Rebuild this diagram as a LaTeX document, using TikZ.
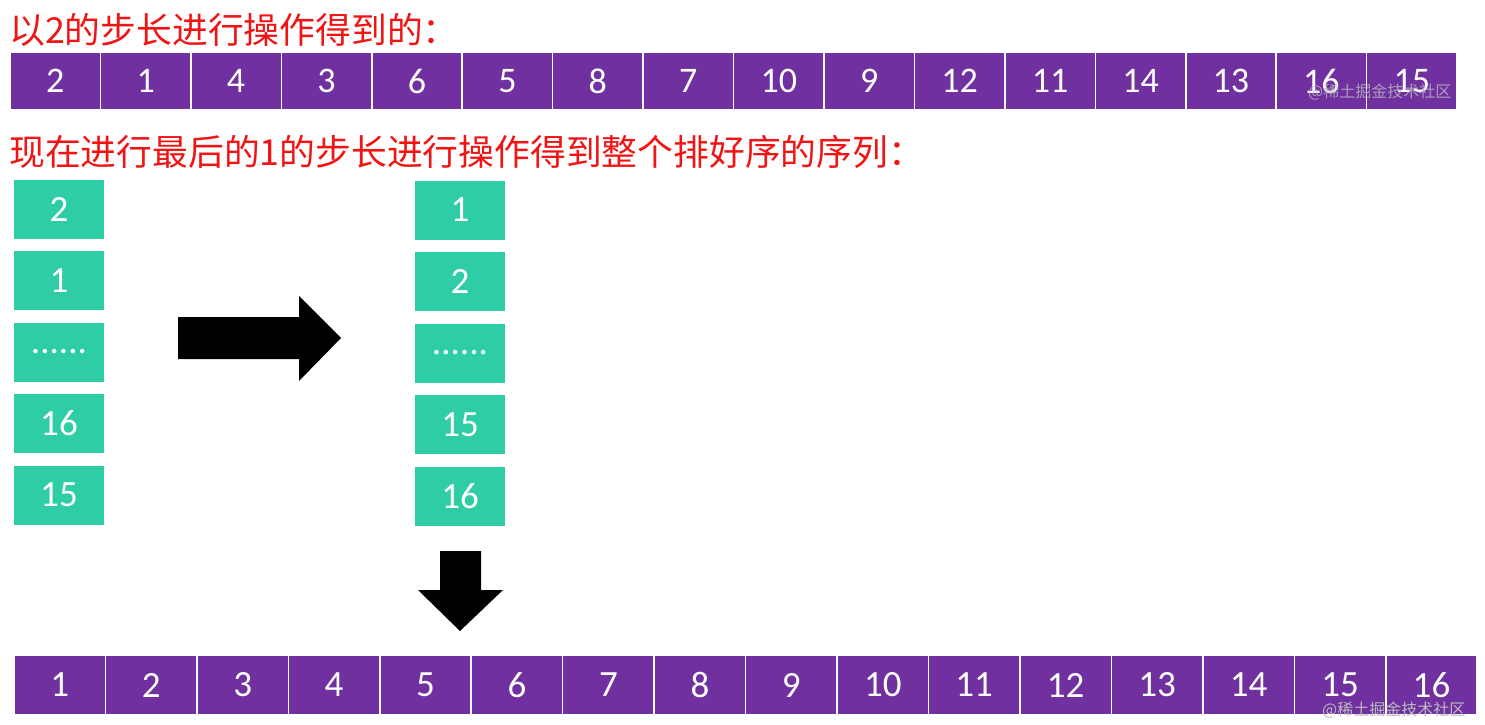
\documentclass[tikz,border=0pt]{standalone}
\usepackage{fontspec}
\setmainfont{Carlito}
\newfontfamily\cjk{Noto Sans CJK SC}
\definecolor{cellpurple}{RGB}{112,48,160}
\definecolor{cellgreen}{RGB}{47,205,166}
\definecolor{titlered}{RGB}{240,20,20}
\definecolor{wmgray}{RGB}{185,185,190}
\newcommand\mydots{......}
\tikzset{
  topcell/.style={draw=white, line width=1.5pt, fill=cellpurple, minimum width=90.4pt, minimum height=58pt, inner sep=0pt, text=white, font=\fontsize{36}{36}\selectfont},
  botcell/.style={draw=white, line width=1.5pt, fill=cellpurple, minimum width=91.4pt, minimum height=59pt, inner sep=0pt, text=white, font=\fontsize{37}{37}\selectfont},
  greencell/.style={fill=cellgreen, minimum width=90pt, minimum height=59pt, inner sep=0pt, text=white, font=\fontsize{37}{37}\selectfont},
  title/.style={anchor=west, inner sep=0pt, text=titlered, font=\cjk\fontsize{35.8}{35.8}\selectfont},
  wm/.style={inner sep=0pt, text=wmgray, font=\cjk\fontsize{16}{16}\selectfont},
  blockarrow/.style={fill=black}
}
\begin{document}
\begin{tikzpicture}[x=1pt,y=-1pt]
\useasboundingbox (0,0) rectangle (1485,725);
\node[title] (title1) at (9,30) {以2的步长进行操作得到的：};
\node[title] (title2) at (9,152) {现在进行最后的1的步长进行操作得到整个排好序的序列：};
% top row
\foreach \v [count=\i] in {2,1,4,3,6,5,8,7,10,9,12,11,14,13,16,15}{
  \node[topcell] (t\i) at ({10+90.44*(\i-0.5)},81) {\raisebox{-2.5pt}{\v}};
}
% bottom row
\foreach \v [count=\i] in {1,2,3,4,5,6,7,8,9,10,11,12,13,14,15,16}{
  \node[botcell] (b\i) at ({14+91.45*(\i-0.5)},685) {\v};
}
% left column
\foreach \v [count=\i] in {2,1,\mydots,16,15}{
  \node[greencell] (l\i) at (59,{209+71.5*(\i-1)}) {\v};
}
% right column
\foreach \v [count=\i] in {1,2,\mydots,15,16}{
  \node[greencell] (r\i) at (460,{210+71.5*(\i-1)}) {\v};
}
% arrows
\fill[blockarrow] (178,317) -- (299,317) -- (299,296) -- (341,338) -- (299,381) -- (299,359) -- (178,359) -- cycle;
\fill[blockarrow] (440,551) -- (481,551) -- (481,590) -- (503,590) -- (460,631) -- (418,590) -- (440,590) -- cycle;
% watermarks
\node[wm, anchor=west, opacity=0.8] (wm1) at (1308,92) {@稀土掘金技术社区};
\node[wm, anchor=west] (wm2) at (1322,710) {@稀土掘金技术社区};
\end{tikzpicture}
\end{document}
